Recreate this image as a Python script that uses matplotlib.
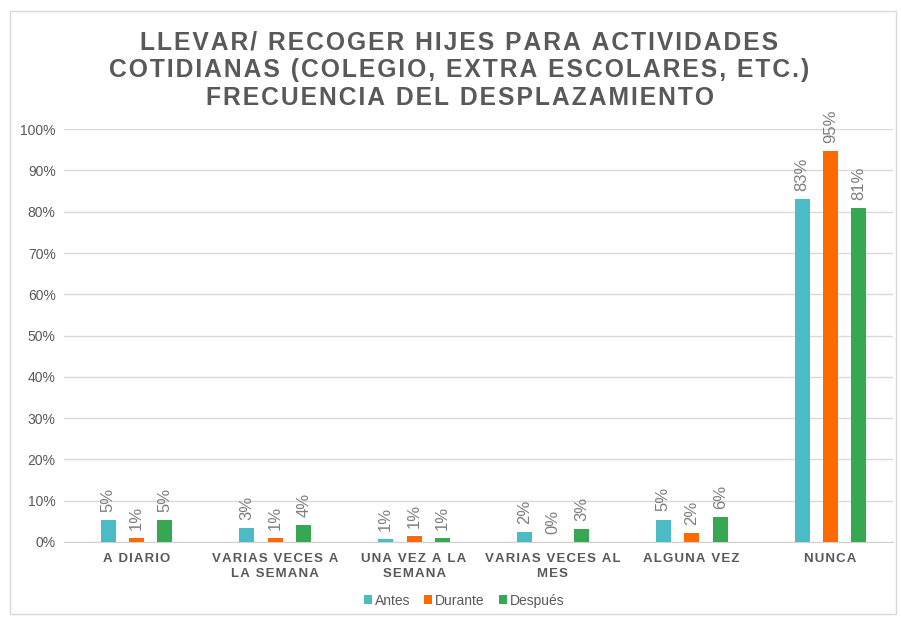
import matplotlib.pyplot as plt
from matplotlib.patches import Patch, Rectangle
import numpy as np

plt.rcParams['font.family'] = ['Liberation Sans', 'DejaVu Sans']

categories = ['A DIARIO', 'VARIAS VECES A\nLA SEMANA', 'UNA VEZ A LA\nSEMANA',
              'VARIAS VECES AL\nMES', 'ALGUNA VEZ', 'NUNCA']
antes = [5.3, 3.4, 0.7, 2.4, 5.4, 83.0]
durante = [1.0, 1.0, 1.4, 0.0, 2.1, 94.6]
despues = [5.3, 4.1, 1.0, 3.2, 6.0, 80.8]
series_names = ['Antes', 'Durante', 'Después']
colors = ['#4BBCC6', '#FF6A00', '#37A852']

title = ('LLEVAR/ RECOGER HIJES PARA ACTIVIDADES\n'
         'COTIDIANAS (COLEGIO, EXTRA ESCOLARES, ETC.)\n'
         'FRECUENCIA DEL DESPLAZAMIENTO')


def spaced(s, sep='\u200a'):
    # fake letter spacing with hair spaces
    return '\n'.join(sep.join(line) for line in s.split('\n'))


fig = plt.figure(figsize=(9.01, 6.18), dpi=100)
fig.patches.append(Rectangle((0.011, 0.006), 0.984, 0.976, transform=fig.transFigure,
                             fill=False, edgecolor='#D9D9D9', linewidth=1))
ax = fig.add_axes([64 / 901, 0.123, 829 / 901, 0.668])

x = np.arange(len(categories))
width = 0.108
offset = 0.205
grey = '#595959'

for i, (vals, name) in enumerate(zip([antes, durante, despues], series_names)):
    pos = x + (i - 1) * offset
    ax.bar(pos, vals, width=width, color=colors[i], zorder=3)
    for p, v in zip(pos, vals):
        ax.text(p, v + 2.0, f'{v:.0f}%', rotation=90, ha='center', va='bottom',
                fontsize=12, color='#7F7F7F')

ax.set_ylim(0, 100)
ax.set_xlim(-0.522, 5.45)
ax.set_yticks(np.arange(0, 101, 10))
ax.set_yticklabels([f'{t}%' for t in range(0, 101, 10)], fontsize=10, color=grey)
ax.set_xticks(x)
ax.set_xticklabels([spaced(c) for c in categories], fontsize=9.5, fontweight='bold',
                   color=grey, linespacing=1.3)
ax.tick_params(axis='x', length=0, pad=8)
ax.tick_params(axis='y', length=0, pad=6)
ax.grid(axis='y', color='#D9D9D9', linewidth=1, zorder=0)
for s in ['left', 'right', 'top']:
    ax.spines[s].set_visible(False)
ax.spines['bottom'].set_color('#D0D0D0')

fig.text(0.51, 0.951, spaced(title), ha='center', va='top', fontsize=17.7,
         fontweight='bold', color=grey, linespacing=1.2)

handles = [Patch(facecolor=c, label=n) for c, n in zip(colors, series_names)]
fig.legend(handles=handles, loc='center', bbox_to_anchor=(0.515, 0.028), ncol=3,
           frameon=False, fontsize=10, handlelength=0.6, handleheight=0.6,
           handletextpad=0.2, columnspacing=1.0, labelcolor=grey)

fig.savefig('out.png', dpi=100)
